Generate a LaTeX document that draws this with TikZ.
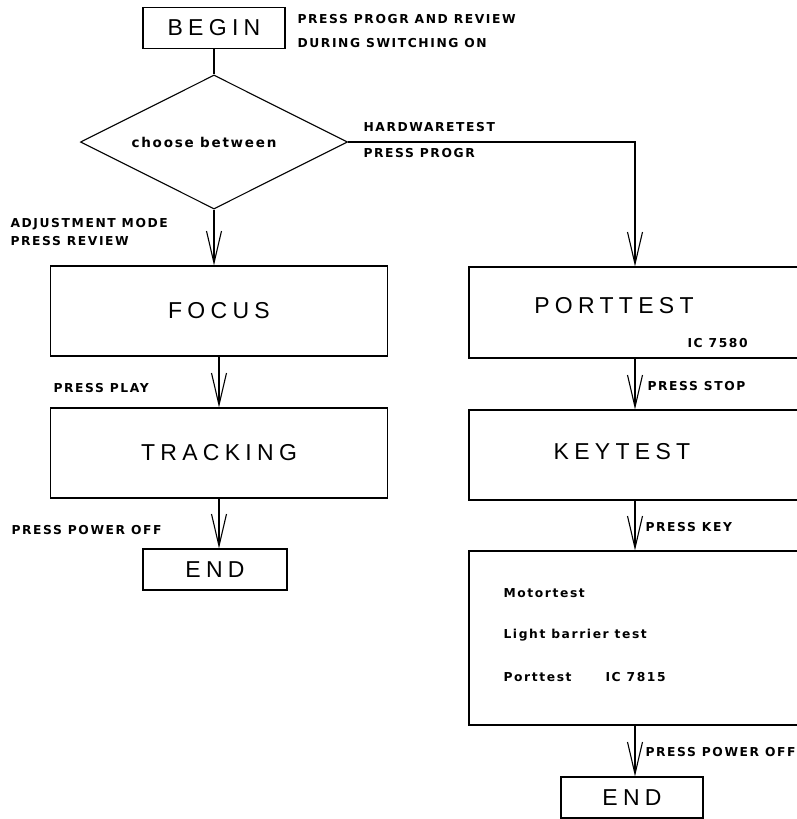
\documentclass[tikz,border=0pt]{standalone}
\usepackage{fontspec}
\usetikzlibrary{shapes.geometric}
\usetikzlibrary{arrows.meta}
\newfontfamily\titlefont[LetterSpace=23]{Liberation Sans}
\newfontfamily\labelfont[LetterSpace=13]{DejaVu Sans}
\begin{document}
\begin{tikzpicture}
	[x=1pt, y=-1pt, line width=1.1pt,
	 box/.style = {draw, inner sep=0pt, font=\titlefont\fontsize{23}{27}\selectfont},
	 title/.style = {inner sep=0pt, font=\titlefont\fontsize{23}{27}\selectfont},
	 lbl/.style = {anchor=west, inner sep=0pt, font=\labelfont\bfseries\fontsize{12.3}{14}\selectfont},
	 flow/.style = {-{Straight Barb[length=32pt, width=15pt]}}]
	\useasboundingbox (0,0) rectangle (797,819);
	% left column
	\node[box, minimum width=142pt, minimum height=41pt] (begin) at (214,28) {BEGIN};
	\node[draw, diamond, inner sep=0pt, minimum width=267pt, minimum height=134pt] (choice) at (214,142) {};
	\node[inner sep=0pt, font=\labelfont\bfseries\fontsize{13.5}{16}\selectfont] (choicetext) at (204,142) {choose between};
	\node[box, minimum width=337pt, minimum height=90pt] (focus) at (219,311) {FOCUS};
	\node[box, minimum width=337pt, minimum height=90pt] (tracking) at (219,453) {TRACKING};
	\node[box, minimum width=144pt, minimum height=41pt] (endl) at (215,569.5) {END};
	% right column
	\node[box, minimum width=332pt, minimum height=91pt] (port) at (635,312.5) {};
	\node[title] (porttitle) at (614,306) {PORTTEST};
	\node[box, minimum width=332pt, minimum height=90pt] (key) at (635,455) {};
	\node[title] (keytitle) at (622,452) {KEYTEST};
	\node[box, minimum width=332pt, minimum height=174pt] (tests) at (635,638) {};
	\node[box, minimum width=142pt, minimum height=41pt] (endr) at (632,797.5) {END};
	% labels
	\node[lbl] (l1) at (297,19) {PRESS PROGR AND REVIEW};
	\node[lbl] (l2) at (297,43) {DURING SWITCHING ON};
	\node[lbl] (l3) at (363,127) {HARDWARETEST};
	\node[lbl] (l4) at (363,153) {PRESS PROGR};
	\node[lbl] (l5) at (10,224) {ADJUSTMENT MODE};
	\node[lbl] (l6) at (10,241) {PRESS REVIEW};
	\node[lbl] (l7) at (53,388) {PRESS PLAY};
	\node[lbl] (l8) at (11,530) {PRESS POWER OFF};
	\node[lbl] (l9) at (687,343) {IC 7580};
	\node[lbl] (l10) at (647,386) {PRESS STOP};
	\node[lbl] (l11) at (645,527) {PRESS KEY};
	\node[lbl] (l12) at (645,752) {PRESS POWER OFF};
	\node[lbl] (t1) at (503,593) {Motortest};
	\node[lbl] (t2) at (503,635) {Light barrier test};
	\node[lbl] (t3) at (503,677) {Porttest};
	\node[lbl] (t4) at (605,677) {IC 7815};
	% connectors
	\draw (begin) -- (choice.north);
	\draw[flow] (choice.south) -- (choice.south |- focus.north);
	\draw[flow] (focus) -- (tracking);
	\draw[flow] (tracking.south) -- (tracking.south |- endl.north);
	\draw[flow] (choice.east) -| (port.north);
	\draw[flow] (port) -- (key);
	\draw[flow] (key) -- (tests);
	\draw[flow] (tests.south) -- (tests.south |- endr.north);
\end{tikzpicture}
\end{document}
